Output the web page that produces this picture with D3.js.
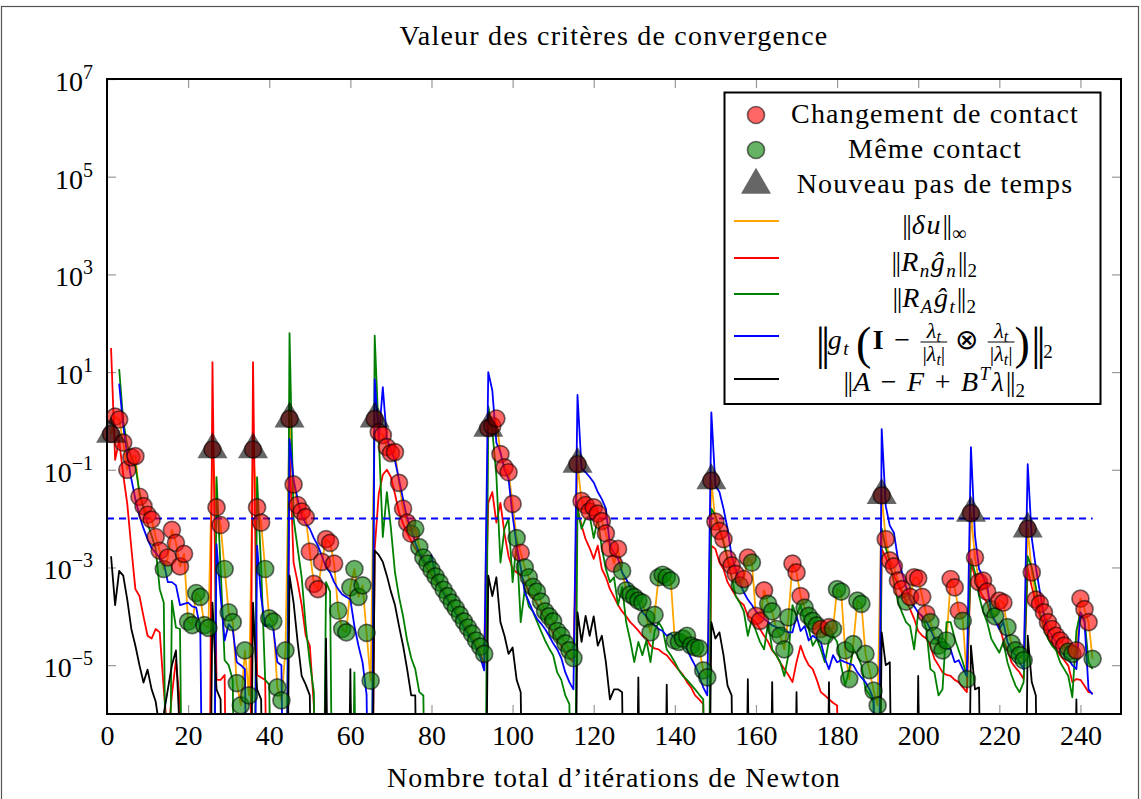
<!DOCTYPE html>
<html>
<head>
<meta charset="utf-8">
<script src="https://cdn.jsdelivr.net/npm/d3@7"></script>
<style>
  body { margin: 0; background: #fff; }
  svg text { font-family: "Liberation Serif", "Times New Roman", serif; fill: #000; }
</style>
</head>
<body>
<script>
// Newton iteration n = index + 1 (1..243); 0 = below the axis floor, null = no value
// ||du||_inf (orange line + markers)
var du = [5.4e-1,1.23,1.07,3.6e-1,1e-1,1.8e-1,1.9e-1,2.8e-2,1.8e-2,1.2e-2,
  9.5e-3,4.2e-3,2.2e-3,9.3e-4,1.6e-3,5.9e-3,3.2e-3,1.05e-3,1.9e-3,7.8e-5,
  6.6e-5,3.0e-4,2.5e-4,6.6e-5,5.8e-5,2.6e-1,1.7e-2,7.4e-3,9.3e-4,1.2e-4,
  7.6e-5,4.3e-6,1.5e-6,2.0e-5,2.4e-6,2.6e-1,1.7e-2,8.3e-3,9.3e-4,9.1e-5,
  7.8e-5,3.5e-6,1.9e-6,2.0e-5,1.1,5.0e-2,1.9e-2,1.4e-2,1.07e-2,2.1e-3,
  4.6e-4,3.6e-4,1.3e-3,3.8e-3,3.2e-3,1.2e-3,1.3e-4,5.5e-5,4.7e-5,3.9e-4,
  9.3e-4,2.5e-4,4.3e-4,4.6e-5,4.8e-6,1.1,5.9e-1,5.1e-1,2.9e-1,2.2e-1,
  2.3e-1,5.4e-2,1.6e-2,8.3e-3,4.9e-3,6.2e-3,2.6e-3,1.6e-3,1.2e-3,8.9e-4,
  6.6e-4,4.9e-4,3.5e-4,2.6e-4,1.9e-4,1.45e-4,1.07e-4,7.9e-5,5.9e-5,4.4e-5,
  3.2e-5,2.4e-5,1.7e-5,7.1e-1,7.9e-1,1.12,2.1e-1,1.12e-1,8.9e-2,2.0e-2,
  4.0e-3,2.0e-3,1.0e-3,6.3e-4,4.0e-4,3.2e-4,2.0e-4,1.26e-4,1.0e-4,7.9e-5,
  5.0e-5,4.0e-5,2.8e-5,2.0e-5,1.4e-5,1.3e-1,2.3e-2,1.9e-2,1.4e-2,1.7e-2,
  1.26e-2,8.9e-3,5.0e-3,2.5e-3,1.2e-3,2.4e-3,8.5e-4,3.4e-4,2.8e-4,2.5e-4,
  2.1e-4,1.9e-4,9.1e-5,4.7e-5,1.07e-4,6.3e-4,7.1e-4,6.3e-4,5.4e-4,3.2e-5,
  3.0e-5,3.5e-5,4.0e-5,2.5e-5,2.3e-5,2.2e-5,7.8e-6,5.6e-6,6.0e-2,8.7e-3,
  5.6e-3,3.8e-3,1.5e-3,1.1e-3,7.4e-4,4.3e-4,5.8e-4,1.6e-3,1.26e-3,1.02e-4,
  8.1e-5,3.4e-4,1.8e-4,1.26e-4,5.5e-5,4.0e-5,2.1e-5,9.5e-5,1.2e-3,7.9e-4,
  2.6e-4,1.5e-4,1.02e-4,8.1e-5,6.5e-5,5.5e-5,4.0e-5,6.0e-5,5.5e-5,3.6e-4,
  3.2e-4,2.0e-5,5.2e-6,2.7e-5,2.1e-4,1.8e-4,1.7e-5,7.9e-6,3.0e-6,1.5e-6,
  3.0e-2,3.8e-3,1.4e-3,1.05e-3,5.4e-4,3.6e-4,2.0e-4,2.5e-4,6.3e-4,6.0e-4,
  2.5e-4,1.12e-4,7.6e-5,4.0e-5,2.5e-5,2.0e-5,3.2e-5,5.8e-4,3.9e-4,1.3e-4,
  8.1e-5,5.2e-6,1.3e-2,1.6e-3,5.0e-4,5.4e-4,3.2e-4,1.4e-4,1.0e-4,2.1e-4,
  1.9e-4,6.0e-5,2.8e-5,2.0e-5,1.6e-5,1.26e-5,6.2e-3,7.9e-4,2.2e-4,1.8e-4,
  1.2e-4,7.6e-5,5.5e-5,4.0e-5,3.2e-5,2.5e-5,1.9e-5,1.7e-5,2.0e-5,2.3e-4,
  1.4e-4,7.6e-5,1.35e-5]

// 1 = changement de contact (red marker), 0 = meme contact (green marker)
var contactChange = [1,1,1,1,1,1,1,1,1,1, 1,1,1,0,1,1,1,1,1,0,
  0,0,0,0,0,1,1,1,0,0, 0,0,0,0,0,1,1,1,0,0,
  0,0,0,0,1,1,1,1,1,1, 1,1,1,1,1,1,0,0,0,0,
  0,0,0,0,0,1,1,1,1,1, 1,1,1,1,1,0,0,0,0,0,
  0,0,0,0,0,0,0,0,0,0, 0,0,0,1,1,1,1,1,1,1,
  0,1,0,0,0,0,0,0,0,0, 0,0,0,0,0,1,1,1,1,1,
  1,1,1,1,1,1,0,0,0,0, 0,0,0,0,0,0,0,0,0,0,
  0,0,0,0,0,0,0,0,1,1, 1,1,1,1,1,0,1,1,0,1,
  1,1,0,0,0,0,0,0,1,1, 1,0,0,0,0,1,0,1,0,0,
  0,0,0,0,0,0,0,0,0,0, 1,1,1,1,1,1,0,1,1,1,
  1,1,0,0,0,0,0,1,1,1, 0,0,1,1,1,1,1,0,0,1,
  1,0,0,0,0,0,1,1,1,1, 1,1,1,1,1,1,0,0,1,1,
  1,1,0]

// first iteration of each new time step
var newStepIters = [1, 26, 36, 45, 66, 94, 116, 149, 191, 213, 227]

// ||R_n g_n||_2 (red)
var rn = [3.1e1,1.6e-1,4.0e-1,7.9e-2,2.0e-2,2.5e-3,3.6e-4,2.6e-4,1.0e-4,4.0e-5,
  3.5e-5,5.5e-5,4.7e-5,3.2e-6,3.2e-7,2.5e-6,1.26e-5,1.6e-6,0,0,
  0,0,0,0,0,1.6e1,5.0e-6,5.0e-6,6.3e-6,0,
  0,0,0,0,0,1.6e1,6.3e-6,5.6e-6,5.0e-6,0,
  0,0,0,0,2.5e-1,1.26e-3,5.0e-4,1.7e-4,4.0e-5,2.5e-5,
  1.5e-6,0,0,0,0,0,0,0,0,0,
  0,0,0,0,0,2.4e-3,3.2e-2,7.9e-2,1.0e-1,7.1e-2,
  3.2e-2,1.35e-2,7.9e-3,5.0e-3,3.5e-3,2.5e-3,1.8e-3,1.26e-3,9.3e-4,7.1e-4,
  5.2e-4,3.9e-4,2.9e-4,2.1e-4,1.6e-4,1.17e-4,8.7e-5,6.3e-5,4.7e-5,3.5e-5,
  2.5e-5,1.8e-5,1.0e-5,2.1e-2,3.5e-2,8.3e-3,2.1e-2,5.0e-3,1.7e-3,9.3e-4,
  7.9e-4,6.8e-4,5.0e-4,3.1e-4,2.5e-4,1.8e-4,1.26e-4,8.9e-5,6.3e-5,4.5e-5,
  3.2e-5,2.5e-5,1.8e-5,1.4e-5,1.15e-5,1.6e-2,7.2e-3,3.8e-3,2.5e-3,1.5e-3,
  2.8e-3,9.3e-4,6.3e-4,3.6e-4,2.5e-4,1.7e-4,1.26e-4,1.0e-4,7.6e-5,6.3e-5,
  5.1e-5,4.0e-5,3.5e-5,2.5e-5,2.2e-5,2.1e-5,1.8e-5,1.6e-5,1.26e-5,1.0e-5,
  7.9e-6,6.3e-6,4.5e-6,3.5e-6,2.4e-6,2.0e-6,1.6e-6,0,2.8e-3,2.4e-3,
  1.26e-3,9.3e-4,5.0e-4,3.6e-4,2.6e-4,2.0e-4,1.7e-4,1.02e-4,8.9e-5,7.6e-5,
  5.5e-5,4.0e-5,3.0e-5,2.0e-5,1.6e-5,1.12e-5,8.3e-6,6.3e-6,4.5e-6,1.15e-5,
  2.5e-5,1.45e-5,1.0e-5,8.3e-6,5.0e-6,2.8e-6,2.4e-6,2.0e-6,1.7e-6,1.5e-6,
  0,0,0,0,0,0,0,0,0,0,
  2.4e-3,1.6e-3,1.0e-3,6.8e-4,4.5e-4,3.1e-4,2.0e-4,1.4e-4,8.9e-5,5.0e-5,
  4.0e-5,3.5e-5,2.5e-5,1.35e-5,1.0e-5,7.1e-6,6.3e-6,6.0e-6,5.0e-6,4.5e-6,
  3.5e-6,2.8e-6,1.26e-3,6.3e-4,3.6e-4,2.5e-4,1.9e-4,1.02e-4,7.9e-5,6.5e-5,
  3.2e-5,2.1e-5,1.15e-5,8.9e-6,7.1e-6,5.2e-6,9.3e-4,4.0e-4,1.9e-4,1.0e-4,
  7.6e-5,4.0e-5,2.8e-5,2.1e-5,1.6e-5,1.26e-5,9.8e-6,4.5e-6,5.2e-6,5.0e-6,
  3.8e-6,2.8e-6,2.7e-6]

// ||R_A g_t||_2 (green)
var ra = [null,null,1.15e1,1.0,3.2e-1,1.8e-1,1.2e-1,3.5e-2,1.6e-2,7.9e-3,
  4.5e-3,2.4e-3,3.6e-4,1.9e-4,0,2.1e-4,5.9e-5,5.5e-5,0,0,
  0,0,0,0,0,0,7.1e-2,1.0e-3,1.26e-5,1.0e-5,
  5.0e-6,0,0,0,0,0,7.1e-2,1.0e-3,5.0e-6,4.0e-6,
  0,0,0,0,6.3e1,1.0e-2,2.5e-3,6.3e-4,6.3e-5,1.15e-5,
  2.8e-6,0,0,5.0e-4,3.2e-4,0,0,0,0,0,
  7.1e-6,0,0,0,0,5.6e1,5.0e-1,4.2e-3,3.5e-2,6.3e-3,
  7.9e-4,2.5e-4,1.0e-4,3.2e-5,1.4e-5,8.3e-6,2.8e-6,2.4e-6,0,0,
  0,0,0,0,0,0,0,0,0,0,
  0,0,0,2.0,6.3e-1,7.6e-2,1.26e-3,6.2e-3,1.0e-2,5.0e-4,
  3.2e-3,7.6e-5,3.6e-4,1.6e-4,1.26e-4,7.9e-5,5.0e-5,3.2e-5,2.2e-5,1.6e-5,
  7.1e-6,5.0e-6,2.4e-6,1.6e-6,0,1.6e-2,6.2e-3,1.0e-2,1.15e-2,4.0e-3,
  1.0e-2,2.5e-3,9.3e-4,5.0e-4,6.3e-4,1.7e-4,4.0e-4,7.6e-5,3.2e-5,1.15e-5,
  3.0e-5,1.6e-5,3.2e-5,1.15e-5,5.0e-5,7.6e-5,5.5e-5,2.1e-5,1.6e-5,1.15e-5,
  7.9e-6,6.0e-6,5.0e-6,4.0e-6,3.2e-6,2.5e-6,2.0e-6,0,1.6e-2,1.15e-2,
  6.3e-3,3.2e-3,1.5e-3,6.3e-4,2.6e-4,1.9e-4,1.26e-4,4.0e-5,8.9e-5,5.0e-5,
  3.0e-5,2.1e-5,7.6e-5,2.1e-5,1.6e-5,1.15e-5,6.0e-6,1.6e-5,1.7e-4,1.02e-4,
  1.7e-4,7.9e-5,5.5e-5,2.5e-5,3.5e-5,2.1e-5,1.15e-5,3.2e-5,4.0e-5,3.0e-5,
  9.8e-6,3.8e-6,8.3e-6,2.1e-5,1.6e-5,1.0e-5,3.2e-6,2.5e-6,1.7e-6,0,
  6.2e-3,2.5e-3,1.26e-3,5.0e-4,2.0e-4,1.2e-4,7.6e-5,6.3e-5,2.1e-5,1.2e-4,
  1.0e-4,5.5e-5,8.3e-6,7.1e-6,2.4e-6,3.2e-6,7.6e-5,7.6e-5,3.5e-5,2.0e-5,
  1.15e-5,6.0e-6,1.5e-3,7.9e-4,2.6e-4,1.26e-4,7.6e-5,3.5e-5,2.5e-5,1.8e-5,
  3.0e-5,1.15e-5,6.3e-6,3.8e-6,2.8e-6,4.5e-6,1.7e-3,1.0e-3,4.0e-4,1.2e-4,
  5.5e-5,3.5e-5,2.5e-5,2.0e-5,1.15e-5,8.3e-6,6.0e-6,2.2e-6,5.0e-5,1.2e-4,
  8.9e-5,1.15e-5,8.3e-6]

// ||g_t (I - ...)||_2 (blue)
var gt = [null,null,5.8,7.9e-1,1.95e-1,6.5e-2,2.5e-2,1.15e-2,6.3e-3,3.8e-3,
  2.5e-3,2.0e-3,1.6e-3,1.26e-3,5.0e-4,5.0e-4,4.3e-4,1.7e-4,1.8e-4,1.9e-4,
  1.6e-4,1.5e-4,5.5e-5,0,0,0,3.0e-3,2.6e-4,3.2e-5,6.9e-5,
  5.5e-5,1.15e-5,1.0e-5,8.3e-6,0,0,2.8e-3,2.5e-4,6.3e-5,6.9e-5,
  5.5e-5,1.15e-5,1.0e-5,0,4.3e-1,6.3e-2,2.5e-2,1.15e-2,7.9e-3,6.2e-3,
  4.0e-3,2.8e-3,1.7e-3,1.0e-3,7.9e-4,5.0e-4,3.6e-4,2.8e-4,2.5e-4,2.2e-4,
  6.3e-5,2.5e-5,1.15e-5,2.5e-6,0,7.2,4.3e-1,4.9,4.3e-1,2.5e-1,
  1.55e-1,6.3e-2,2.5e-2,1.0e-2,6.3e-3,3.2e-3,2.0e-3,1.4e-3,1.12e-3,1.8e-3,
  6.3e-4,4.2e-4,3.0e-4,2.2e-4,1.6e-4,1.12e-4,8.1e-5,5.9e-5,4.3e-5,3.1e-5,
  2.2e-5,1.5e-5,7.8e-6,1.0e1,4.2,3.6e-1,2.3e-1,1.0e-1,6.5e-2,1.15e-2,
  2.8e-3,1.0e-3,3.1e-4,2.0e-4,1.26e-4,8.9e-5,7.1e-5,5.5e-5,4.0e-5,2.8e-5,
  2.1e-5,1.4e-5,7.1e-6,4.5e-6,3.2e-6,3.4,1.05e-1,8.9e-2,7.1e-2,5.5e-2,
  3.5e-2,2.5e-2,1.6e-2,2.8e-3,2.0e-3,1.5e-3,7.9e-4,5.8e-4,4.0e-4,2.6e-4,
  2.0e-4,1.2e-4,1.0e-4,7.6e-5,6.5e-5,5.5e-5,5.0e-5,4.0e-5,4.4e-5,3.5e-5,
  3.2e-5,2.5e-5,2.1e-5,1.4e-5,9.8e-6,6.3e-6,3.5e-6,2.4e-6,1.5,4.7e-2,
  3.5e-2,1.6e-2,6.2e-3,1.7e-3,9.3e-4,5.0e-4,3.1e-4,2.2e-4,1.7e-4,1.26e-4,
  1.02e-4,8.9e-5,7.6e-5,6.5e-5,6.0e-5,5.5e-5,5.0e-5,4.7e-5,4.7e-5,1.02e-4,
  5.0e-5,6.3e-5,3.2e-5,4.0e-5,3.5e-5,3.0e-5,1.35e-5,8.3e-6,1.6e-5,1.15e-5,
  1.26e-5,1.15e-5,1.07e-5,1.0e-5,7.1e-6,5.6e-6,4.5e-6,3.2e-6,2.0e-6,0,
  6.8e-1,1.8e-2,7.2e-3,5.2e-3,1.5e-3,7.9e-4,4.0e-4,2.2e-4,1.6e-4,1.2e-4,
  1.0e-4,7.9e-5,5.5e-5,3.5e-5,3.2e-5,2.5e-5,2.2e-5,2.1e-5,1.15e-5,1.26e-5,
  8.3e-6,6.0e-6,2.9e-1,4.5e-3,9.3e-4,6.3e-4,4.3e-4,1.2e-4,7.9e-5,5.5e-5,
  7.6e-5,3.0e-5,2.0e-5,1.6e-5,1.15e-5,8.3e-6,1.3e-1,4.0e-3,1.0e-3,3.2e-4,
  1.02e-4,5.5e-5,4.0e-5,3.0e-5,2.0e-5,1.6e-5,1.35e-5,1.0e-5,8.3e-6,1.2e-4,
  7.6e-5,3.2e-6,2.5e-6]

// ||A - F + B^T lambda||_2 (black)
var res = [1.7e-3,1.7e-4,8.5e-4,6.8e-4,2.2e-4,5.5e-5,2.5e-5,1.0e-5,4.4e-6,8.1e-6,
  3.2e-6,1.8e-6,5.0e-7,1.0e-6,3.2e-6,1.0e-5,2.0e-5,3.2e-7,0,0,
  0,0,0,0,0,1.9e-4,3.2e-6,2.0e-6,0,0,
  0,0,0,0,0,1.9e-4,3.2e-6,2.0e-6,0,0,
  0,0,0,0,6.8e-4,1.9e-4,3.0e-5,6.0e-6,4.0e-6,2.4e-6,
  0,0,0,3.5e-5,0,0,0,0,0,8.3e-6,
  0,0,0,0,0,2.2e-3,1.8e-3,1.3e-3,6.8e-4,3.2e-4,
  1.7e-4,6.3e-5,2.5e-5,8.3e-6,2.4e-6,2.4e-6,0,0,0,0,
  0,0,0,0,0,0,0,0,0,0,
  0,0,0,6.8e-4,2.6e-4,6.3e-4,7.6e-5,4.0e-5,1.7e-5,2.3e-5,
  5.0e-6,2.8e-6,0,0,0,0,0,0,0,0,
  0,0,0,0,0,1.2e-4,3.0e-5,1.02e-4,4.0e-5,1.0e-4,
  2.5e-5,4.0e-5,1.15e-5,2.0e-6,3.2e-6,3.2e-6,2.8e-6,0,0,0,
  5.6e-6,0,0,0,0,0,0,4.0e-6,0,0,
  0,0,0,0,0,0,0,0,7.6e-5,3.5e-5,
  4.7e-5,1.6e-5,3.8e-6,2.4e-6,0,0,0,5.2e-6,0,0,
  0,0,0,4.5e-6,0,0,0,0,0,2.8e-6,
  0,0,0,0,0,0,0,4.5e-6,0,0,
  0,0,0,0,0,0,0,0,0,0,
  4.7e-5,1.0e-5,1.15e-5,0,0,0,0,0,0,6.0e-6,
  0,0,0,0,0,0,0,0,0,0,
  0,0,2.5e-5,3.2e-6,3.5e-6,0,0,0,0,0,
  0,0,0,0,0,0,4.0e-5,4.5e-6,2.4e-6,0,
  0,0,0,0,0,0,0,0,2.0e-6,0,
  0,0,0]

var tolerance = 1e-2
var tolRange = [0, 243]
var xTicks = [0, 20, 40, 60, 80, 100, 120, 140, 160, 180, 200, 220, 240]
var yTicks = [1e7, 1e5, 1e3, 1e1, 1e-1, 1e-3, 1e-5]

var W = 1141, H = 799
var svg = d3.select('body').append('svg').attr('width', W).attr('height', H)

// outer frame of the figure
svg.append('rect').attr('x', 1.5).attr('y', 6.5).attr('width', 1137).attr('height', 820)
  .attr('fill', 'none').attr('stroke', '#555').attr('stroke-width', 1.2)

var x = d3.scaleLinear().domain([0, 250]).range([107, 1121])
var y = d3.scaleLog().domain([1e-6, 1e7]).range([714, 79])

svg.append('clipPath').attr('id', 'plotclip').append('rect')
  .attr('x', 107).attr('y', 79).attr('width', 1014).attr('height', 635)

// ticks (inward, on all four sides)
function tickStyle(g) {
  g.select('.domain').remove()
  g.selectAll('.tick line').attr('stroke', '#999').attr('stroke-width', 1.2)
}
svg.append('g').attr('transform', 'translate(0,714)')
  .call(d3.axisBottom(x).tickValues(xTicks).tickSize(-9).tickPadding(11))
  .call(tickStyle)
  .call(function (g) {
    g.selectAll('.tick text').attr('font-size', 28)
      .attr('font-family', '"Liberation Serif", serif').attr('fill', '#000')
  })
svg.append('g').attr('transform', 'translate(0,79)')
  .call(d3.axisTop(x).tickValues(xTicks).tickSize(-9).tickFormat(''))
  .call(tickStyle)
svg.append('g').attr('transform', 'translate(107,0)')
  .call(d3.axisLeft(y).tickValues(yTicks).tickSize(-9).tickFormat(''))
  .call(tickStyle)
svg.append('g').attr('transform', 'translate(1121,0)')
  .call(d3.axisRight(y).tickValues(yTicks).tickSize(-9).tickFormat(''))
  .call(tickStyle)

// y tick labels 10^k
yTicks.forEach(function (d) {
  var k = Math.round(Math.log10(d))
  var t = svg.append('text').attr('x', 93).attr('y', y(d) + 12)
    .attr('text-anchor', 'end').attr('font-size', 28)
  t.append('tspan').text('10')
  t.append('tspan').attr('font-size', 20).attr('dy', -12).text(k < 0 ? '\u2212' + (-k) : k)
})

// lines
var plot = svg.append('g').attr('clip-path', 'url(#plotclip)')
function pts(vals) { return vals.map(function (v, i) { return { n: i + 1, v: v } }) }
var line = d3.line()
  .defined(function (d) { return d.v !== null })
  .x(function (d) { return x(d.n) })
  .y(function (d) { return y(Math.max(d.v, 1e-12)) })

var seriesList = [
  { vals: du, color: '#ffa500' },
  { vals: rn, color: '#ff0000' },
  { vals: ra, color: '#008000' },
  { vals: gt, color: '#0000ff' },
  { vals: res, color: '#000000' }
]
seriesList.forEach(function (s) {
  plot.append('path').datum(pts(s.vals))
    .attr('d', line).attr('fill', 'none')
    .attr('stroke', s.color).attr('stroke-width', 1.8).attr('stroke-linejoin', 'round')
})

// tolerance
plot.append('line')
  .attr('x1', x(tolRange[0])).attr('x2', x(tolRange[1]))
  .attr('y1', y(tolerance)).attr('y2', y(tolerance))
  .attr('stroke', '#0000ff').attr('stroke-width', 2).attr('stroke-dasharray', '7,5')

// markers
svg.append('g').selectAll('circle')
  .data(pts(du))
  .enter()
  .append('circle')
  .attr('cx', function (d) { return x(d.n) })
  .attr('cy', function (d) { return y(d.v) })
  .attr('r', 8.5)
  .attr('fill', function (d, i) { return contactChange[i] ? '#ff0000' : '#008000' })
  .attr('fill-opacity', 0.6)
  .attr('stroke', '#000').attr('stroke-opacity', 0.55).attr('stroke-width', 1.7)

var tri = d3.symbol().type(d3.symbolTriangle).size(390)
svg.append('g').selectAll('path')
  .data(newStepIters)
  .enter()
  .append('path')
  .attr('d', tri)
  .attr('transform', function (n) { return 'translate(' + x(n) + ',' + y(du[n - 1]) + ')' })
  .attr('fill', '#000').attr('fill-opacity', 0.6)

// axis frame
svg.append('rect').attr('x', 107).attr('y', 79).attr('width', 1014).attr('height', 635)
  .attr('fill', 'none').attr('stroke', '#000').attr('stroke-width', 2)

// title and axis label
svg.append('text').attr('x', 614).attr('y', 45).attr('text-anchor', 'middle')
  .attr('font-size', 28).attr('letter-spacing', 1.2).text('Valeur des crit\u00e8res de convergence')
svg.append('text').attr('x', 614).attr('y', 787).attr('text-anchor', 'middle')
  .attr('font-size', 28).attr('letter-spacing', 1.2).text('Nombre total d\u2019it\u00e9rations de Newton')

// legend
var lg = svg.append('g')
lg.append('rect').attr('x', 724.5).attr('y', 92.5).attr('width', 376).attr('height', 311.5)
  .attr('fill', '#fff').attr('stroke', '#000').attr('stroke-width', 2)

var textX = 935
lg.append('circle').attr('cx', 756).attr('cy', 115).attr('r', 8.5)
  .attr('fill', '#ff0000').attr('fill-opacity', 0.6)
  .attr('stroke', '#000').attr('stroke-opacity', 0.55).attr('stroke-width', 1.7)
lg.append('text').attr('x', textX).attr('y', 123).attr('text-anchor', 'middle')
  .attr('font-size', 28).attr('letter-spacing', 1.2).text('Changement de contact')
lg.append('circle').attr('cx', 756).attr('cy', 150).attr('r', 8.5)
  .attr('fill', '#008000').attr('fill-opacity', 0.6)
  .attr('stroke', '#000').attr('stroke-opacity', 0.55).attr('stroke-width', 1.7)
lg.append('text').attr('x', textX).attr('y', 158).attr('text-anchor', 'middle')
  .attr('font-size', 28).attr('letter-spacing', 1.2).text('M\u00eame contact')
lg.append('path').attr('d', tri).attr('transform', 'translate(756,185)')
  .attr('fill', '#000').attr('fill-opacity', 0.6)
lg.append('text').attr('x', textX).attr('y', 193).attr('text-anchor', 'middle')
  .attr('font-size', 28).attr('letter-spacing', 1.2).text('Nouveau pas de temps')

// small math layout: pieces placed one after another, then centred
function mathLabel(parent, parts, cx, base) {
  var g = parent.append('g')
  var cur = 0
  parts.forEach(function (p) {
    if (p.sp) { cur += p.sp; return }
    if (p.frac) {
      var num = g.append('text').attr('y', base - 11).attr('font-size', 22).attr('text-anchor', 'middle')
      num.append('tspan').attr('font-style', 'italic').text('\u03bb')
      num.append('tspan').attr('font-style', 'italic').attr('font-size', 16).attr('dy', 4).text('t')
      var den = g.append('text').attr('y', base + 12).attr('font-size', 22).attr('text-anchor', 'middle')
      den.append('tspan').text('|')
      den.append('tspan').attr('font-style', 'italic').text('\u03bb')
      den.append('tspan').attr('font-style', 'italic').attr('font-size', 16).attr('dy', 4).text('t')
      den.append('tspan').attr('dy', -4).text('|')
      var w = Math.max(num.node().getComputedTextLength(), den.node().getComputedTextLength()) + 4
      num.attr('x', cur + w / 2)
      den.attr('x', cur + w / 2)
      g.append('line').attr('x1', cur).attr('x2', cur + w)
        .attr('y1', base - 7).attr('y2', base - 7).attr('stroke', '#000').attr('stroke-width', 1)
      cur += w
      return
    }
    var t = g.append('text').attr('x', cur).attr('y', base + (p.dy || 0)).attr('font-size', p.fs || 28)
    if (p.it) t.attr('font-style', 'italic')
    if (p.b) t.attr('font-weight', 'bold')
    if (p.ls) t.attr('letter-spacing', p.ls)
    t.text(p.t)
    cur += t.node().getComputedTextLength() + (p.k === undefined ? 1.5 : p.k)
  })
  g.attr('transform', 'translate(' + (cx - cur / 2) + ',0)')
}

var NORM = { t: '||', ls: -1.5 }
var BIGNORM = { t: '||', fs: 46, dy: 10, ls: -4 }
var legendLines = [
  { color: '#ffa500', ly: 221, base: 234,
    parts: [NORM, { t: '\u03b4', it: 1 }, { t: 'u', it: 1, k: 2 }, NORM, { t: '\u221e', fs: 20, dy: 6 }] },
  { color: '#ff0000', ly: 258, base: 271,
    parts: [NORM, { t: 'R', it: 1 }, { t: 'n', it: 1, fs: 19, dy: 6 }, { t: '\u011d', it: 1 },
      { t: 'n', it: 1, fs: 19, dy: 6, k: 2 }, NORM, { t: '2', fs: 19, dy: 6 }] },
  { color: '#008000', ly: 294, base: 307,
    parts: [NORM, { t: 'R', it: 1 }, { t: 'A', it: 1, fs: 19, dy: 6 }, { t: '\u011d', it: 1 },
      { t: 't', it: 1, fs: 19, dy: 6, k: 2 }, NORM, { t: '2', fs: 19, dy: 6 }] },
  { color: '#0000ff', ly: 336, base: 349,
    parts: [BIGNORM, { t: 'g', it: 1 }, { t: 't', it: 1, fs: 19, dy: 6 }, { sp: 6 },
      { t: '(', fs: 46, dy: 10 }, { t: 'I', b: 1 }, { sp: 9 }, { t: '\u2212' }, { sp: 9 }, { frac: 1 },
      { sp: 8 }, { t: '\u2297' }, { sp: 8 }, { frac: 1 }, { t: ')', fs: 46, dy: 10 },
      BIGNORM, { t: '2', fs: 19, dy: 9 }] },
  { color: '#000000', ly: 379, base: 391,
    parts: [NORM, { t: 'A', it: 1 }, { sp: 9 }, { t: '\u2212' }, { sp: 9 }, { t: 'F', it: 1 }, { sp: 9 },
      { t: '+' }, { sp: 9 }, { t: 'B', it: 1 }, { t: 'T', it: 1, fs: 19, dy: -11 }, { t: '\u03bb', it: 1, k: 2 },
      NORM, { t: '2', fs: 19, dy: 6 }] }
]
legendLines.forEach(function (e) {
  lg.append('line').attr('x1', 734).attr('x2', 779).attr('y1', e.ly).attr('y2', e.ly)
    .attr('stroke', e.color).attr('stroke-width', 1.8)
  mathLabel(lg, e.parts, textX, e.base)
})
</script>
</body>
</html>
